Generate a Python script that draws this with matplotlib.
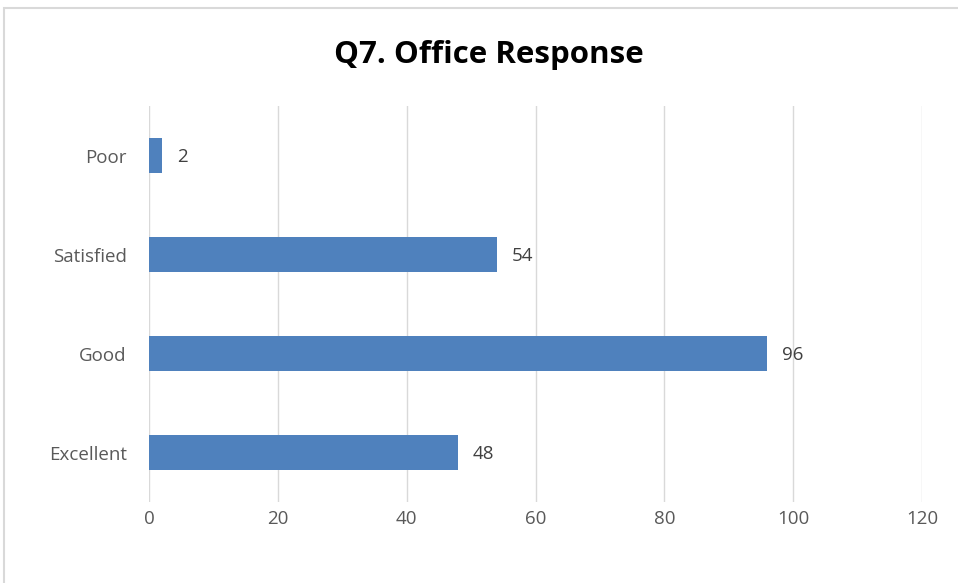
import matplotlib.pyplot as plt
from matplotlib.patches import Rectangle

categories = ['Excellent', 'Good', 'Satisfied', 'Poor']
counts = [48, 96, 54, 2]
x_ticks = [0, 20, 40, 60, 80, 100, 120]

plt.rcParams['font.family'] = ['Open Sans', 'DejaVu Sans']

W, H = 958, 583
fig = plt.figure(figsize=(W / 100, H / 100), dpi=100)

# chart frame like the Excel border (right and bottom edges fall outside the crop)
fig.patches.append(Rectangle((4 / W, -0.1), 1.2, 1.1 - 8 / H, transform=fig.transFigure,
                             fill=False, edgecolor='#d9d9d9', linewidth=1.5))

ax = fig.add_axes([149 / W, 1 - 502 / H, (922 - 149) / W, (502 - 106) / H])
ypos = range(len(categories))
ax.barh(ypos, counts, height=0.36, color='#4f81bd', zorder=3)
for y, v in zip(ypos, counts):
    ax.text(v + 2.3, y - 0.02, str(v), va='center', ha='left', fontsize=13.5, color='#404040')

ax.set_xlim(0, 120)
ax.set_ylim(-0.5, len(categories) - 0.5)
ax.set_xticks(x_ticks)
ax.set_yticks(list(ypos))
ax.set_yticklabels(categories)
ax.tick_params(axis='both', length=0, labelsize=13.5, labelcolor='#595959')
ax.tick_params(axis='x', pad=6)
ax.tick_params(axis='y', pad=16)
ax.grid(axis='x', color='#d9d9d9', linewidth=1, zorder=0)
for s in ax.spines.values():
    s.set_visible(False)

fig.text(489 / W, 1 - 55 / H, 'Q7. Office Response', ha='center', va='center',
         fontsize=22.5, fontweight='bold', color='black')

fig.savefig('out.png', dpi=100)
